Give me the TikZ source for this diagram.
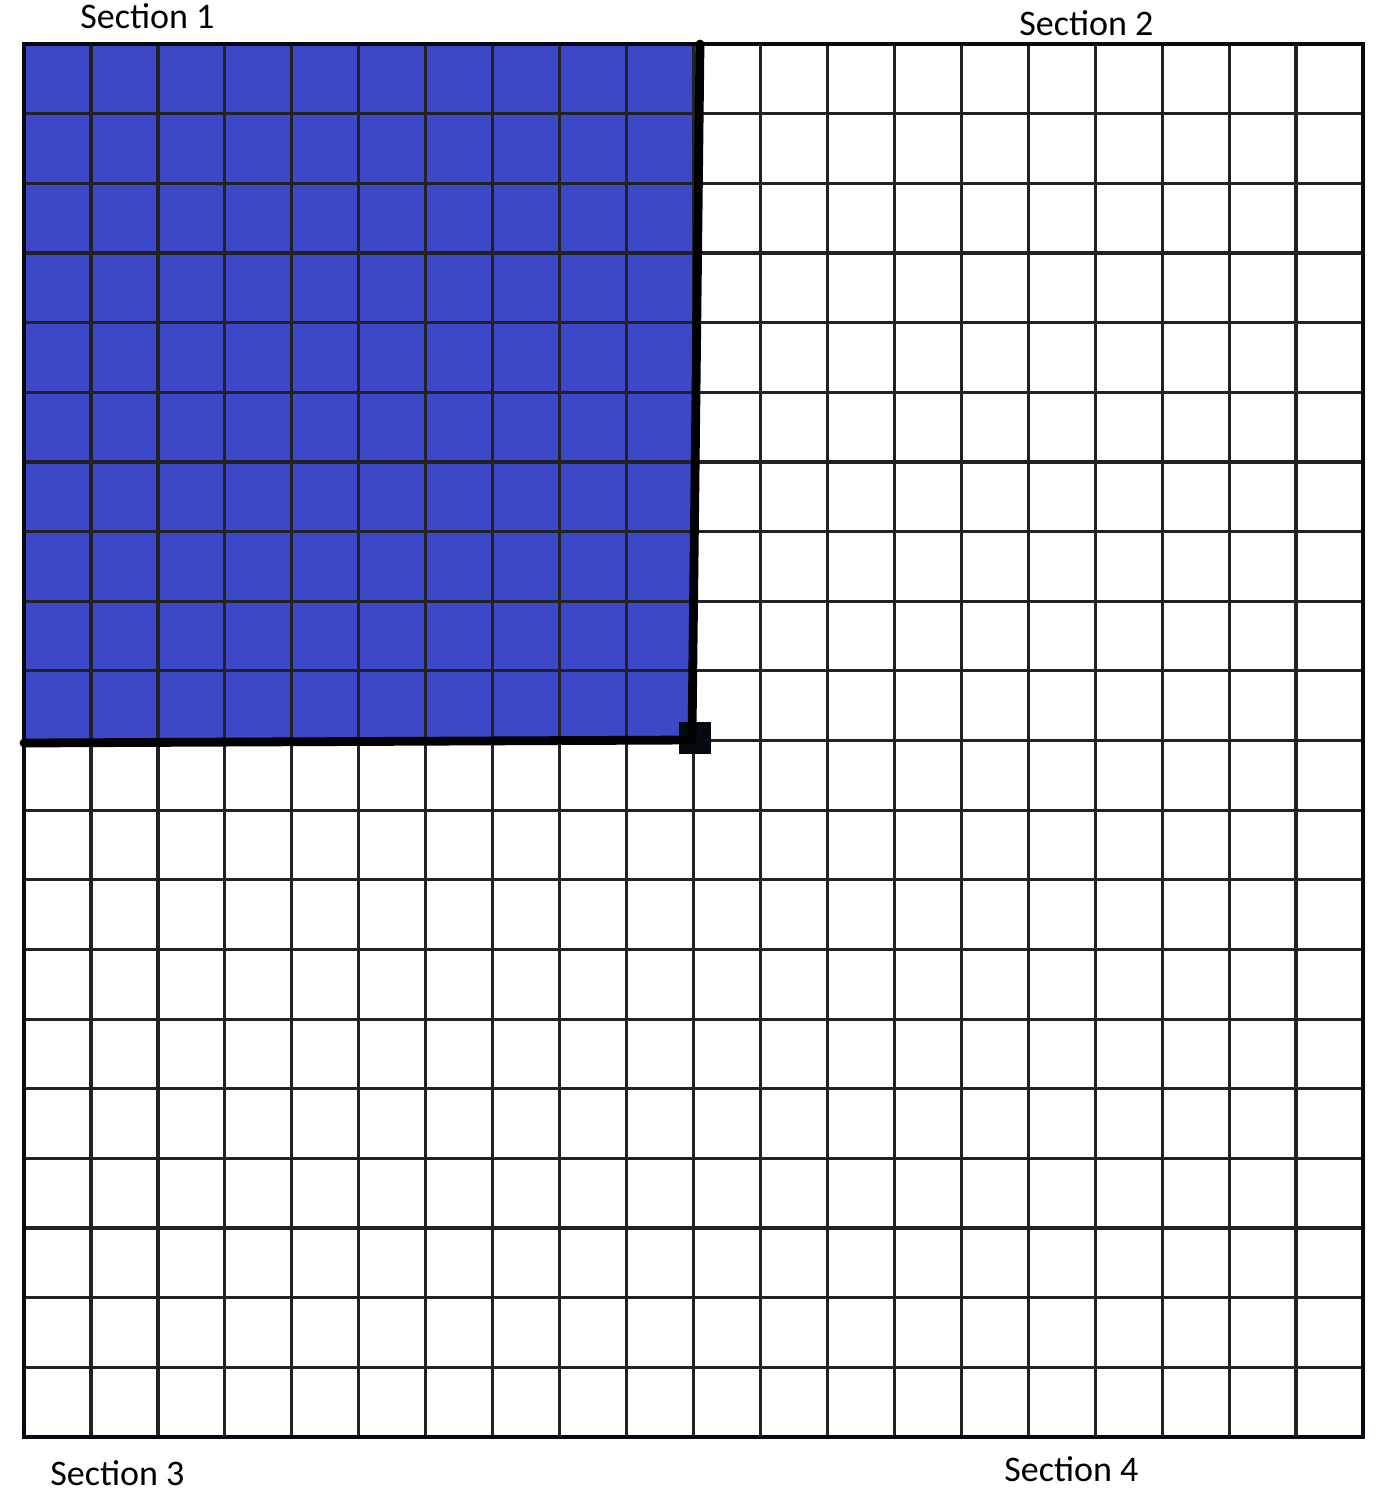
\documentclass[tikz,border=0pt]{standalone}
\usepackage{fontspec}
\setmainfont{Carlito}
\definecolor{blueA}{HTML}{3D48C9}
\definecolor{gridc}{HTML}{222222}
\definecolor{edgec}{HTML}{050A10}
\begin{document}
\begin{tikzpicture}[x=0.5pt,y=-0.5pt,
  lbl/.style={anchor=base west, inner sep=0pt, font=\fontsize{18}{21}\selectfont},
  gridline/.style={draw=gridc, line width=1.6pt},
  boundary/.style={draw=black, line width=4.4pt, line cap=round}]
\useasboundingbox (0,0) rectangle (1400,1494);
\fill[white] (0,0) rectangle (1400,1494);
% blue section
\fill[blueA] (24,44) rectangle (696,741);
% grid
\foreach \i in {1,...,19} {
  \draw[gridline] ({24+\i*66.95},44) -- ({24+\i*66.95},1437);
  \draw[gridline] (24,{44+\i*69.65}) -- (1363,{44+\i*69.65});
}
% outer border
\draw[draw=edgec, line width=2pt] (24,44) rectangle (1363,1437);
% boundary of section 1
\coordinate (topend) at (700,44);
\coordinate (leftend) at (24,743);
\node[fill=edgec, inner sep=0pt, minimum size=16pt] (corner) at (695,738) {};
\draw[boundary] (topend) -- (692,738);
\draw[boundary] (leftend) -- (692,740);
% labels
\node[lbl] (s1) at (80,28) {Section 1};
\node[lbl] (s2) at (1019,35) {Section 2};
\node[lbl] (s3) at (50,1485) {Section 3};
\node[lbl] (s4) at (1004,1481) {Section 4};
\end{tikzpicture}
\end{document}
